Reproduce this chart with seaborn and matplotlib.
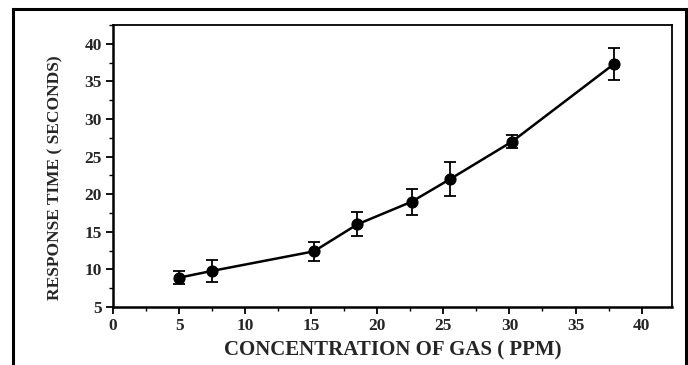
import matplotlib
matplotlib.use("Agg")
import matplotlib.pyplot as plt
from matplotlib.patches import Rectangle
from matplotlib.ticker import MultipleLocator
import seaborn as sns
import pandas as pd

# Gas concentration (ppm), mean response time (s) and its spread
concentration = [5.0, 7.5, 15.2, 18.5, 22.6, 25.5, 30.2, 37.9]
response_time = [8.9, 9.8, 12.4, 16.0, 19.0, 22.0, 27.0, 37.3]
response_err = [0.9, 1.45, 1.3, 1.6, 1.7, 2.3, 0.9, 2.1]

x_ticks = [0, 5, 10, 15, 20, 25, 30, 35, 40]
y_ticks = [5, 10, 15, 20, 25, 30, 35, 40]

df = pd.DataFrame({"conc": concentration, "resp": response_time, "err": response_err})

sns.set_theme(style="ticks")
plt.rcParams["font.family"] = ["Liberation Serif", "DejaVu Serif"]

fig = plt.figure(figsize=(6.88, 3.65), dpi=100)
ax = fig.add_axes([113 / 688, 1 - 307 / 365, (672 - 113) / 688, (307 - 25) / 365])

ax.errorbar(df["conc"], df["resp"], yerr=df["err"], fmt="none",
            ecolor="black", elinewidth=1.3, capsize=4, capthick=1.3, zorder=2)
sns.lineplot(data=df, x="conc", y="resp", ax=ax, color="black", linewidth=1.8,
             marker="o", markersize=8, markeredgecolor="black",
             markerfacecolor="black", zorder=3)

ax.set_xlim(0, 42.3)
ax.set_ylim(5, 42.5)
ax.set_xticks(x_ticks)
ax.set_yticks(y_ticks)
ax.xaxis.set_minor_locator(MultipleLocator(2.5))
ax.yaxis.set_minor_locator(MultipleLocator(2.5))
ax.tick_params(which="major", direction="out", length=5, width=1.3,
               labelsize=12.5, color="black", pad=3)
ax.tick_params(which="minor", direction="out", length=3, width=1.0, color="black")
for lab in ax.get_xticklabels() + ax.get_yticklabels():
    lab.set_fontweight("bold")

for side in ("left", "bottom"):
    ax.spines[side].set_linewidth(1.8)
for side in ("top", "right"):
    ax.spines[side].set_linewidth(1.3)
for sp in ax.spines.values():
    sp.set_color("black")

ax.set_xlabel("CONCENTRATION OF GAS ( PPM)", fontsize=15, fontweight="bold")
ax.xaxis.set_label_coords(0.5, -(350 - 307) / 282, transform=ax.transAxes)
ax.xaxis.label.set_verticalalignment("center")
ax.set_ylabel("RESPONSE TIME ( SECONDS)", fontsize=12.5, fontweight="bold")
ax.yaxis.set_label_coords(-(113 - 55) / 559, (307 - 178) / 282, transform=ax.transAxes)
ax.yaxis.label.set_verticalalignment("center")

# Outer frame around the panel
fig.patches.append(Rectangle((13 / 688, -0.05), (686 - 13) / 688, 1.05 - 9 / 365,
                             transform=fig.transFigure, fill=False,
                             edgecolor="black", linewidth=2.2))

fig.savefig("out.png", dpi=100)
